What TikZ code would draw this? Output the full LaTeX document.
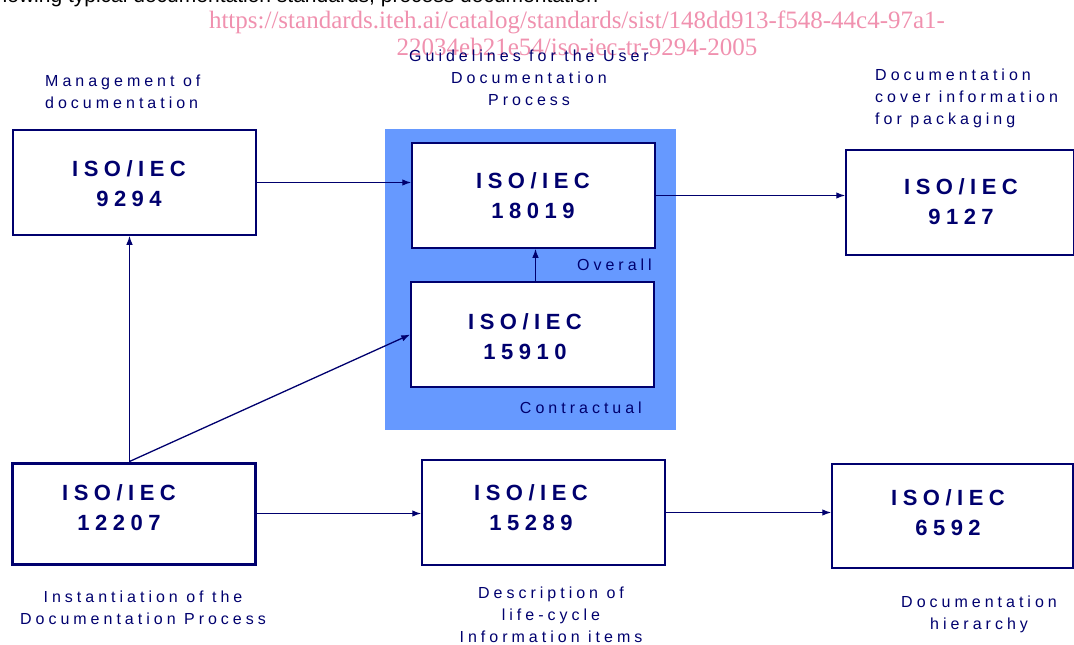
\documentclass[tikz,border=0pt]{standalone}
\usepackage{fontspec}
\setmainfont{Liberation Sans}
\newfontfamily\lblfont[LetterSpace=25]{Liberation Sans}
\newfontfamily\wmfont{Liberation Serif}
\usetikzlibrary{arrows.meta}
\definecolor{dnavy}{RGB}{0,0,110}
\definecolor{bgblue}{RGB}{102,153,255}
\definecolor{wmpink}{RGB}{240,145,175}
\tikzset{
  stdbox/.style={draw=dnavy, line width=1.5, fill=white, inner sep=0,
    minimum width=243, minimum height=105},
  boxtext/.style={text=dnavy, align=center, inner sep=0,
    font=\lblfont\bfseries\fontsize{22}{30}\selectfont},
  lbltext/.style={text=dnavy, inner sep=0,
    font=\lblfont\fontsize{16}{22}\selectfont},
  arr/.style={draw=dnavy, line width=1.3, -{Latex[length=9,width=6.5]}},
  wmtext/.style={text=wmpink, align=center, inner sep=0,
    font=\wmfont\fontsize{25}{27}\selectfont}
}
\begin{document}
\begin{tikzpicture}[x=1pt,y=-1pt]
\useasboundingbox (0,0) rectangle (1074,645);
\clip (0,0) rectangle (1074,645);
% cut-off line at the top
\node[anchor=base west, inner sep=0, font=\fontsize{21}{25}\selectfont] (topline) at (-15,2.5)
  {showing typical documentation standards, process documentation};
% watermark
\node[wmtext] (wm) at (577,33) {https://standards.iteh.ai/catalog/standards/sist/148dd913-f548-44c4-97a1-\\22034eb21e54/iso-iec-tr-9294-2005};
% blue background
\path[fill=bgblue] (385,129) rectangle (676,430);
% boxes
\node[stdbox] (b9294) at (134.5,182.5) {};
\node[stdbox] (b18019) at (533.5,195.5) {};
\node[stdbox] (b15910) at (532.5,334.5) {};
\node[stdbox, minimum width=228] (b9127) at (960,202.5) {};
\node[stdbox, line width=3, minimum height=101] (b12207) at (133.5,513.5) {};
\node[stdbox] (b15289) at (543.5,512.5) {};
\node[stdbox, minimum width=241, minimum height=104] (b6592) at (952.5,516) {};
% box texts
\node[boxtext] (t9294) at (129,184) {ISO/IEC\\9294};
\node[boxtext] (t18019) at (533,196) {ISO/IEC\\18019};
\node[boxtext] (t15910) at (525,337) {ISO/IEC\\15910};
\node[boxtext] (t9127) at (961,202) {ISO/IEC\\9127};
\node[boxtext] (t12207) at (119,508) {ISO/IEC\\12207};
\node[boxtext] (t15289) at (531,508) {ISO/IEC\\15289};
\node[boxtext] (t6592) at (948,513) {ISO/IEC\\6592};
% labels
\node[lbltext, anchor=west, align=left] (lmgmt) at (45,92) {Management of\\documentation};
\node[lbltext, align=center] (lguide) at (529,78) {Guidelines for the User\\Documentation\\Process};
\node[lbltext, anchor=west, align=left] (lcover) at (875,98) {Documentation\\cover information\\for packaging};
\node[lbltext, align=center] (linst) at (143,608) {Instantiation of the\\Documentation Process};
\node[lbltext, align=center] (ldesc) at (551,615) {Description of\\life-cycle\\Information items};
\node[lbltext, align=center] (lhier) at (979,614.5) {Documentation\\hierarchy};
\node[lbltext, anchor=east] (lover) at (652,265) {Overall};
\node[lbltext, anchor=east] (lcontr) at (642,408) {Contractual};
% connectors
\coordinate (src) at ([xshift=-4]b12207.north);
\draw[arr] (b9294.east) -- (b9294.east -| b18019.west);
\draw[arr] (b18019.east) -- (b18019.east -| b9127.west);
\draw[arr] ([xshift=3]b15910.north) -- ([xshift=3]b15910.north |- b18019.south);
\draw[arr] (src) -- (src |- b9294.south);
\draw[arr] (src) -- (b15910.west);
\draw[arr] (b12207.east) -- (b12207.east -| b15289.west);
\draw[arr] (b15289.east) -- (b15289.east -| b6592.west);
\end{tikzpicture}
\end{document}
